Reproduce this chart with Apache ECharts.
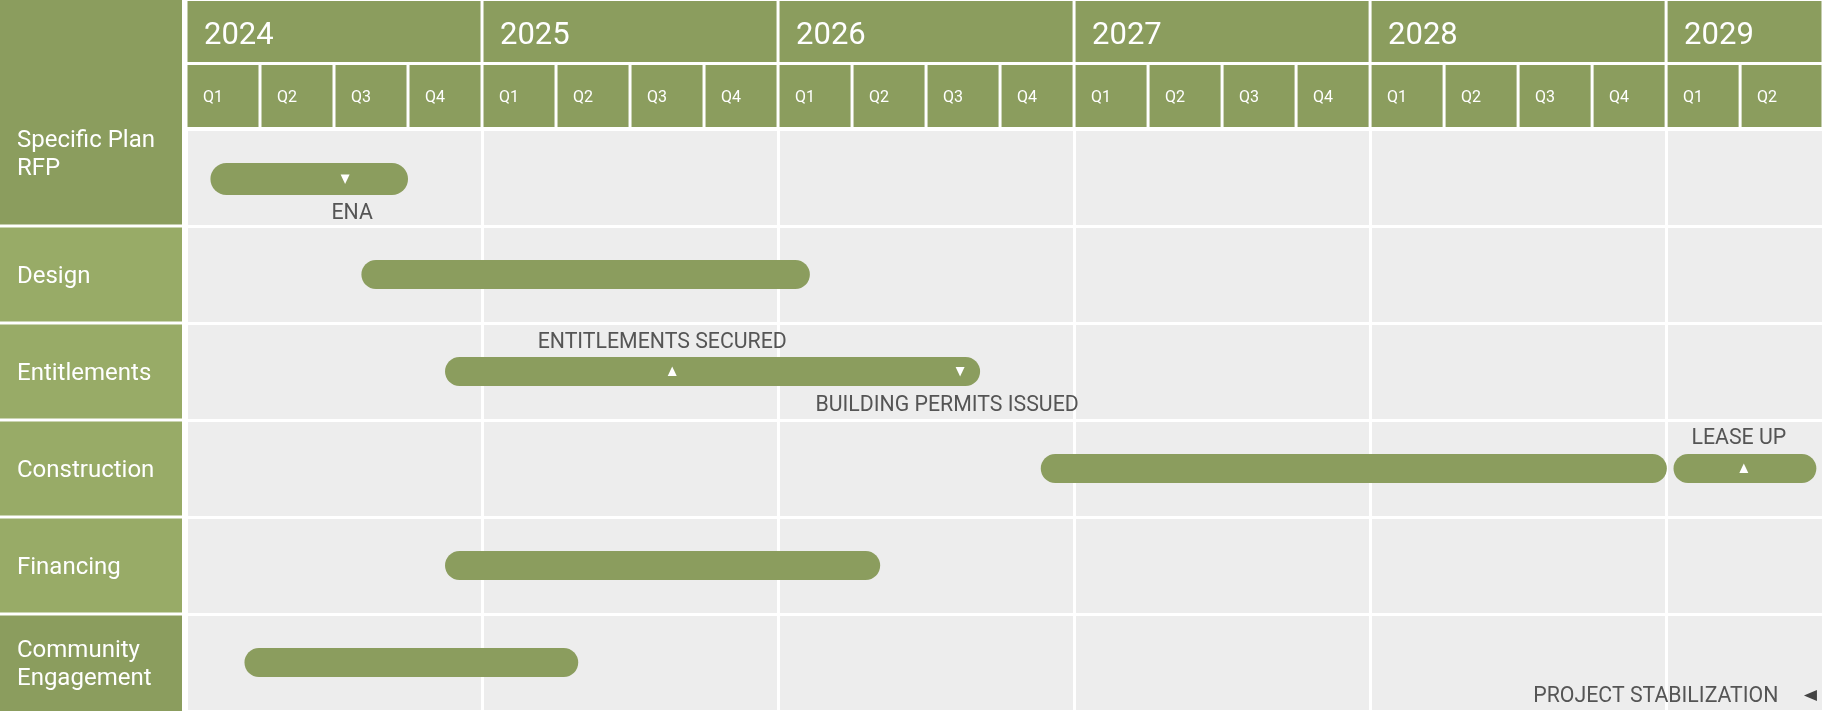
<!DOCTYPE html>
<html>
<head>
<meta charset="utf-8">
<script src="https://cdn.jsdelivr.net/npm/echarts/dist/echarts.min.js"></script>
<style>
html,body{margin:0;padding:0;background:#ffffff;}
#c{width:1823px;height:711px;}
</style>
</head>
<body>
<div id="c"></div>
<script>
// ---- data (positions in quarters counted from the start of 2024 Q1) ----
const tasks = ['Specific Plan\nRFP', 'Design', 'Entitlements', 'Construction', 'Financing', 'Community\nEngagement'];
const barRow   = [0, 1, 2, 3, 3, 4, 5];
const barStart = [0.33, 2.37, 3.5, 11.55, 20.1, 3.5, 0.79];
const barEnd   = [3.0, 8.43, 10.73, 20.01, 22.03, 9.38, 5.3];

const years = ['2024', '2025', '2026', '2027', '2028', '2029'];
const quarterNames = ['Q1', 'Q2', 'Q3', 'Q4'];
const axisEnd = 22.12;

const milestoneNames = ['ENA', 'ENTITLEMENTS SECURED', 'BUILDING PERMITS ISSUED', 'LEASE UP', 'PROJECT STABILIZATION'];
const milestoneRow = [0, 2, 2, 3, 5];
const milestoneAt  = [2.15, 6.57, 10.46, 21.05, 21.95];
const milestoneDir = ['down', 'up', 'down', 'up', 'left'];

// ---- styles ----
const GREEN = '#8B9D5E';
const LIGHT = '#98AB67';
const BG = '#EDEDED';
const FONT = 'Roboto, "Noto Sans", sans-serif';
const labelOffsets = [[7, 34], [-10, -30], [-13, 33], [-5, -31], [-32, 33]];

// header cells built from year / quarter lists
const headerCells = [];
const headerText = [];
years.forEach((y, i) => {
  headerCells.push([i * 4, Math.min((i + 1) * 4, axisEnd), 0]);
  headerText.push(y);
});
const nQuarters = Math.ceil(axisEnd - 0.2);
for (let q = 0; q < nQuarters; q++) {
  headerCells.push([q, Math.min(q + 1, axisEnd), 1]);
  headerText.push(quarterNames[q % 4]);
}
if (headerCells[headerCells.length - 1][1] < axisEnd) headerCells[headerCells.length - 1][1] = axisEnd;

const chart = echarts.init(document.getElementById('c'), null, {renderer: 'canvas'});

const option = {
  animation: false,
  backgroundColor: '#ffffff',
  grid: [
    {left: 186, right: 0, top: 129, bottom: 0, show: true, backgroundColor: BG, borderWidth: 0},
    {left: 186, right: 0, top: 0, height: 128, show: false}
  ],
  xAxis: [
    {type: 'value', gridIndex: 0, min: 0, max: axisEnd, interval: 4,
     axisLine: {show: false}, axisTick: {show: false}, axisLabel: {show: false},
     splitLine: {show: true, lineStyle: {color: '#ffffff', width: 3}}},
    {type: 'value', gridIndex: 1, min: 0, max: axisEnd, show: false}
  ],
  yAxis: [
    {type: 'category', gridIndex: 0, data: tasks, inverse: true,
     axisLine: {show: false}, axisTick: {show: false}, axisLabel: {show: false},
     splitLine: {show: true, lineStyle: {color: '#ffffff', width: 3}}},
    {type: 'value', gridIndex: 1, min: 0, max: 2, show: false}
  ],
  series: [
    // header (years and quarters)
    {
      type: 'custom', xAxisIndex: 1, yAxisIndex: 1, clip: false, silent: true,
      data: headerCells,
      encode: {x: [0, 1]},
      renderItem: function (params, api) {
        const x1 = api.coord([api.value(0), 0])[0];
        const x2 = api.coord([api.value(1), 0])[0];
        const level = api.value(2);
        const y1 = level === 0 ? 1 : 65;
        const y2 = level === 0 ? 62 : 127;
        const left = x1 + 1.5;
        const right = Math.min(x2 - 1.5, 1823);
        return {
          type: 'group',
          children: [
            {type: 'rect', shape: {x: left, y: y1, width: right - left, height: y2 - y1},
             style: {fill: GREEN}},
            {type: 'text', style: {
              x: x1 + (level === 0 ? 18 : 17), y: (y1 + y2) / 2 + (level === 0 ? 4.5 : 2),
              text: headerText[params.dataIndex], fill: '#ffffff',
              font: (level === 0 ? '31px ' : '16px ') + FONT,
              align: 'left', verticalAlign: 'middle'}}
          ]
        };
      }
    },
    // row label column
    {
      type: 'custom', xAxisIndex: 0, yAxisIndex: 0, clip: false, silent: true,
      data: tasks.map((t, i) => [0, i]),
      encode: {y: 1},
      renderItem: function (params, api) {
        const idx = params.dataIndex;
        const cy = api.coord([0, idx])[1];
        const h = api.size([0, 1])[1];
        const top = idx === 0 ? 0 : cy - h / 2 + 1.5;
        const bottom = idx === tasks.length - 1 ? cy + h / 2 : cy + h / 2 - 1.5;
        const dark = (idx === 0 || idx === tasks.length - 1);
        return {
          type: 'group',
          children: [
            {type: 'rect', shape: {x: 0, y: top, width: 182, height: bottom - top},
             style: {fill: dark ? GREEN : LIGHT}},
            {type: 'text', style: {
              x: 17, y: cy + (idx === 0 ? -22.5 : 2.5),
              text: tasks[idx], fill: '#ffffff', font: '24px ' + FONT,
              lineHeight: 28, align: 'left', verticalAlign: 'middle'}}
          ]
        };
      }
    },
    // task bars
    {
      type: 'custom', xAxisIndex: 0, yAxisIndex: 0, clip: false, silent: true,
      data: barStart.map((s, i) => [s, barEnd[i], barRow[i]]),
      encode: {x: [0, 1], y: 2},
      renderItem: function (params, api) {
        const row = api.value(2);
        const s = api.coord([api.value(0), row]);
        const e = api.coord([api.value(1), row]);
        const h = row === 0 ? 32 : 29;
        const cy = s[1] + (row === 0 ? 1.5 : 0);
        return {
          type: 'rect',
          shape: {x: s[0], y: cy - h / 2, width: e[0] - s[0], height: h, r: h / 2},
          style: {fill: GREEN}
        };
      }
    },
    // milestones
    {
      type: 'custom', xAxisIndex: 0, yAxisIndex: 0, clip: false, silent: true,
      data: milestoneAt.map((m, i) => [m, milestoneRow[i]]),
      encode: {x: 0, y: 1},
      renderItem: function (params, api) {
        const i = params.dataIndex;
        const p = api.coord([api.value(0), api.value(1)]);
        const cx = p[0];
        let cy = p[1] + (api.value(1) === 0 ? 1.5 : 0);
        const dir = milestoneDir[i];
        let pts, fill = '#ffffff';
        if (dir === 'up') {
          pts = [[cx - 4.5, cy + 4.5], [cx + 4.5, cy + 4.5], [cx, cy - 5]];
        } else if (dir === 'down') {
          pts = [[cx - 4.5, cy - 4.5], [cx + 4.5, cy - 4.5], [cx, cy + 5]];
        } else {
          const my = cy + labelOffsets[i][1];
          pts = [[cx + 6.5, my - 5.5], [cx + 6.5, my + 5.5], [cx - 6.5, my]];
          fill = '#444444';
        }
        const off = labelOffsets[i];
        return {
          type: 'group',
          children: [
            {type: 'polygon', shape: {points: pts}, style: {fill: fill}},
            {type: 'text', style: {
              x: cx + off[0], y: cy + off[1] + 1,
              text: milestoneNames[i], fill: '#555555', font: '21.3px ' + FONT,
              align: dir === 'left' ? 'right' : 'center', verticalAlign: 'middle'}}
          ]
        };
      }
    }
  ]
};
chart.setOption(option);
</script>
</body>
</html>
